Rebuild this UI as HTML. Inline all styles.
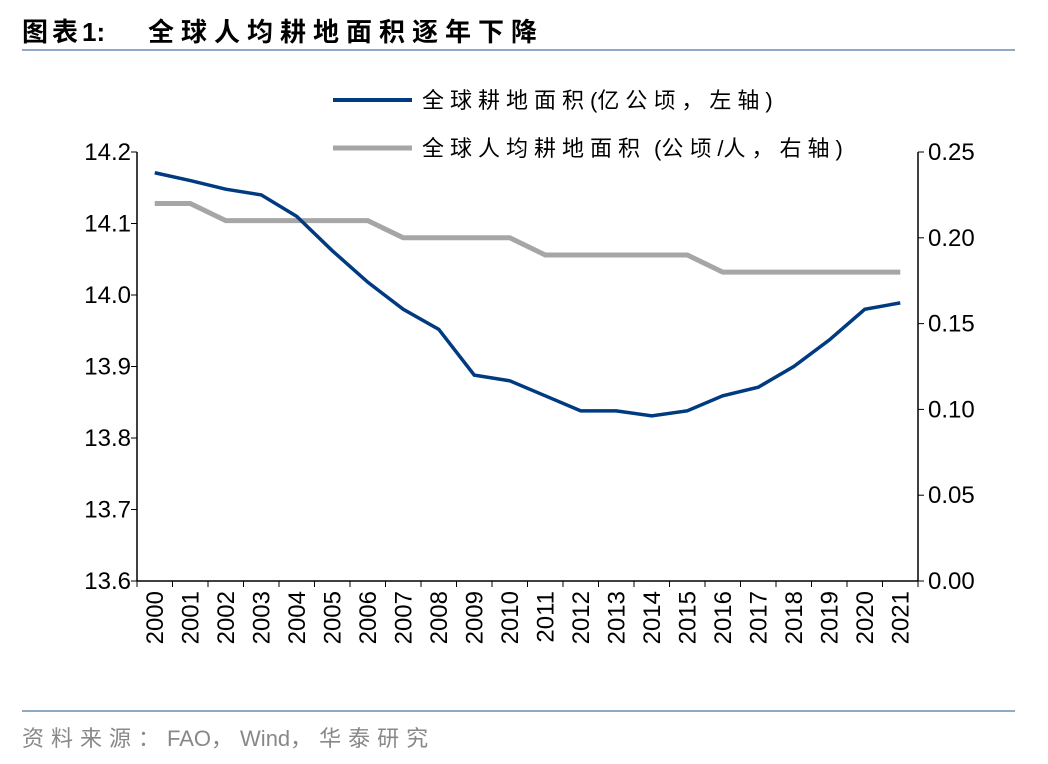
<!DOCTYPE html>
<html><head><meta charset="utf-8"><style>
body{margin:0;background:#fff;}
svg{display:block;font-family:"Liberation Sans","Noto Sans CJK SC",sans-serif;}
</style></head><body>
<svg id="c" width="1048" height="764">
<text x="22" y="41" font-size="26" font-weight="bold" fill="#000"><tspan letter-spacing="4">图表</tspan><tspan>1:</tspan><tspan x="148" letter-spacing="7">全球人均耕地面积逐年下降</tspan></text>
<line x1="22" y1="50" x2="1015" y2="50" stroke="#8faac4" stroke-width="2"/>
<line x1="22" y1="711" x2="1015" y2="711" stroke="#8faac4" stroke-width="2"/>
<text x="22" y="746" font-size="22" fill="#888"><tspan letter-spacing="7">资料来源：</tspan><tspan>FAO</tspan><tspan letter-spacing="7">，</tspan><tspan>Wind</tspan><tspan letter-spacing="7">，华泰研究</tspan></text>
<g id="legend">
<line x1="333" y1="100" x2="412" y2="100" stroke="#003a80" stroke-width="4"/>
<text x="422" y="108" font-size="22"><tspan letter-spacing="6">全球耕地面积</tspan><tspan>(</tspan><tspan letter-spacing="6">亿公顷，左轴</tspan><tspan>)</tspan></text>
<line x1="333" y1="148" x2="412" y2="148" stroke="#a6a6a6" stroke-width="5"/>
<text x="422" y="156" font-size="22"><tspan letter-spacing="6">全球人均耕地面积</tspan><tspan dx="8">(</tspan><tspan letter-spacing="6">公顷</tspan><tspan>/</tspan><tspan letter-spacing="6">人，右轴</tspan><tspan>)</tspan></text>
</g>
<g id="plot"></g>
</svg>
<script>
const years=["2000","2001","2002","2003","2004","2005","2006","2007","2008","2009","2010","2011","2012","2013","2014","2015","2016","2017","2018","2019","2020","2021"];
const areaValues=[14.171,14.160,14.148,14.140,14.110,14.062,14.018,13.980,13.952,13.888,13.880,13.859,13.838,13.838,13.831,13.838,13.859,13.871,13.900,13.937,13.980,13.989];
const perCapitaValues=[0.22,0.22,0.21,0.21,0.21,0.21,0.21,0.20,0.20,0.20,0.20,0.19,0.19,0.19,0.19,0.19,0.18,0.18,0.18,0.18,0.18,0.18];
const leftTicks=[13.6,13.7,13.8,13.9,14.0,14.1,14.2];
const rightTicks=[0,0.05,0.10,0.15,0.20,0.25];
const X0=137,X1=918,Y0=581,Y1=152;
const band=(X1-X0)/years.length;
const xs=i=>X0+band*(i+0.5);
const yl=v=>Y0-(v-13.6)/0.6*(Y0-Y1);
const yr=v=>Y0-v/0.25*(Y0-Y1);
const g=document.getElementById('plot');
const NS="http://www.w3.org/2000/svg";
function mk(t,a){const e=document.createElementNS(NS,t);for(const k in a)e.setAttribute(k,a[k]);g.appendChild(e);return e;}
let e=mk('line',{x1:X0,y1:Y1,x2:X0,y2:Y0,stroke:'#000','stroke-width':1.5});


e=mk('line',{x1:X1,y1:Y1,x2:X1,y2:Y0,stroke:'#000','stroke-width':1.5});


e=mk('line',{x1:X0,y1:Y0,x2:X1,y2:Y0,stroke:'#000','stroke-width':1.5});


leftTicks.forEach(v=>{const y=yl(v);
mk('line',{x1:X0-6,y1:y,x2:X0,y2:y,stroke:'#000'});
const t=mk('text',{x:X0-6,y:y+8,'font-size':24,'text-anchor':'end'});t.textContent=v.toFixed(1);

});
rightTicks.forEach(v=>{const y=yr(v);
mk('line',{x1:X1,y1:y,x2:X1+6,y2:y,stroke:'#000'});
const t=mk('text',{x:X1+10,y:y+8,'font-size':24});t.textContent=v.toFixed(2);

});
years.forEach((yv,i)=>{
mk('line',{x1:X0+band*i,y1:Y0,x2:X0+band*i,y2:Y0+6,stroke:'#000'});
const x=xs(i)+8;const t=mk('text',{x:x,y:Y0+10,'font-size':24,'text-anchor':'end',transform:`rotate(-90 ${x} ${Y0+10})`});
t.textContent=yv;

});
mk('line',{x1:X1,y1:Y0,x2:X1,y2:Y0+6,stroke:'#000'});
e=mk('polyline',{points:perCapitaValues.map((v,i)=>xs(i)+','+yr(v)).join(' '),fill:'none',stroke:'#a6a6a6','stroke-width':5});


e=mk('polyline',{points:areaValues.map((v,i)=>xs(i)+','+yl(v)).join(' '),fill:'none',stroke:'#003a80','stroke-width':3.5});


</script>
</body></html>
